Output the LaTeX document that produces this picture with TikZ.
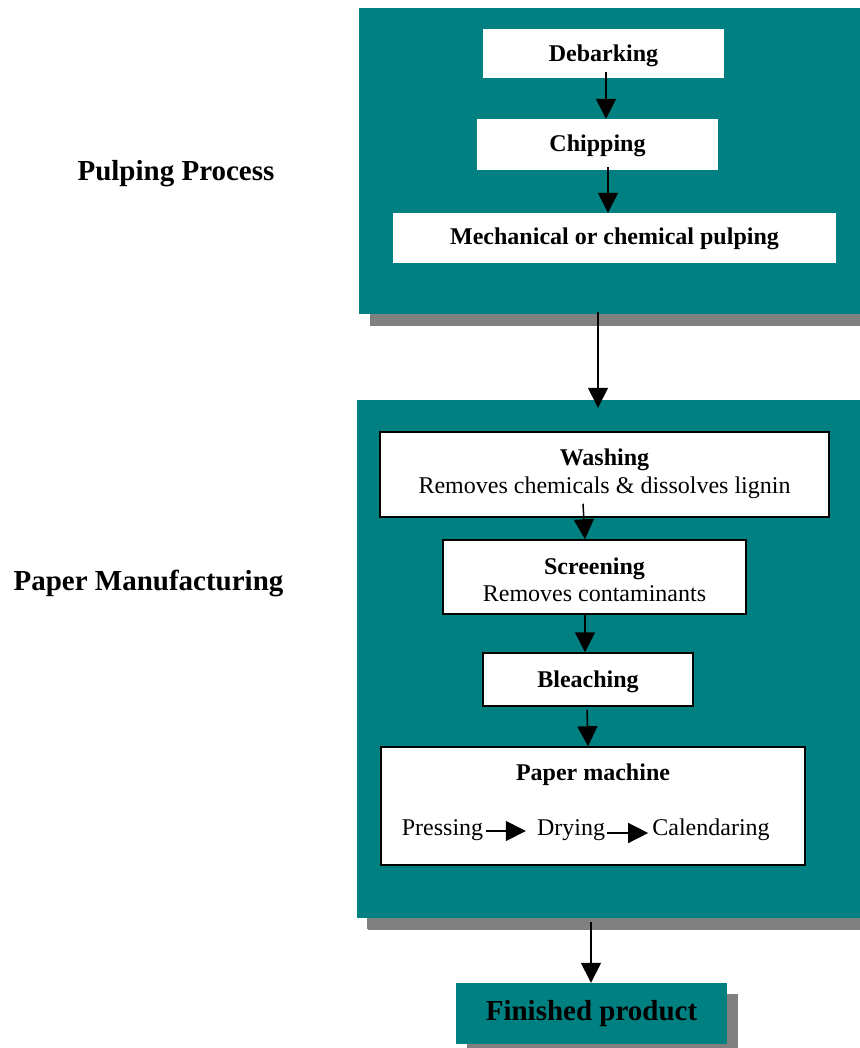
\documentclass[tikz,border=0pt]{standalone}
\usepackage{fontspec}
\setmainfont{Liberation Serif}
\usetikzlibrary{arrows.meta,shadows}
\definecolor{tealpanel}{HTML}{008080}
\definecolor{shadowgray}{HTML}{808080}
\tikzset{
  panel/.style={fill=tealpanel, inner sep=0pt,
    general shadow={fill=shadowgray, shadow xshift=11pt, shadow yshift=-12pt}},
  plainbox/.style={fill=white, inner sep=0pt, font=\fontsize{24}{28}\selectfont\bfseries},
  framebox/.style={fill=white, draw=black, line width=1.5pt, inner sep=0pt,
    font=\fontsize{24}{28}\selectfont, align=center},
  sidelabel/.style={anchor=base, inner sep=0pt, font=\fontsize{29}{34}\selectfont\bfseries},
  rowtext/.style={anchor=base, inner sep=0pt, font=\fontsize{24}{28}\selectfont},
  arr/.style={-{Triangle[length=20pt,width=20pt]}, line width=1.5pt},
}
\begin{document}
\begin{tikzpicture}[x=1pt,y=-1pt]
\useasboundingbox (0,0) rectangle (859,1048);

% side headings
\node[sidelabel] (lblpulp) at (176,181) {Pulping Process};
\node[sidelabel] (lblpaper) at (148.5,590) {Paper Manufacturing};

% pulping panel
\node[panel, minimum width=513pt, minimum height=306pt] (pulp) at (615.5,161) {};
\node[plainbox, minimum width=241pt, minimum height=49pt, text height=17pt, text depth=0pt]
  (deb) at (603.5,53.5) {Debarking};
\node[plainbox, minimum width=241pt, minimum height=51pt, text height=15pt, text depth=0pt]
  (chip) at (597.5,144.5) {Chipping};
\node[plainbox, minimum width=443pt, minimum height=50pt, text height=14pt, text depth=0pt]
  (mech) at (614.5,238) {Mechanical or chemical pulping};
\draw[arr] ([xshift=2.5pt,yshift=6pt]deb.south) -- ([xshift=8.5pt]chip.north);
\draw[arr] ([xshift=10.5pt,yshift=3pt]chip.south) -- ([xshift=-6.5pt]mech.north);

% paper manufacturing panel
\node[panel, general shadow={fill=shadowgray, shadow xshift=10pt, shadow yshift=-11pt},
  minimum width=513pt, minimum height=518pt] (manu) at (613.5,659) {};
\draw[arr] ([xshift=-17.5pt,yshift=2pt]pulp.south) -- ([xshift=-15.5pt,yshift=-8pt]manu.north);

\node[framebox, minimum width=449pt, minimum height=85pt, text height=42pt, text depth=5pt]
  (wash) at (604.5,474.5) {\textbf{Washing}\\Removes chemicals \& dissolves lignin};
\node[framebox, font=\fontsize{24}{27}\selectfont, minimum width=303pt, minimum height=74pt,
  text height=53pt, text depth=5pt]
  (scr) at (594.5,577) {\textbf{Screening}\\Removes contaminants};
\node[framebox, font=\fontsize{24}{28}\selectfont\bfseries, minimum width=210pt, minimum height=53pt,
  text height=15pt, text depth=0pt]
  (blea) at (588,679.5) {Bleaching};
\node[framebox, minimum width=424pt, minimum height=118pt] (pm) at (593,806) {};
\node[rowtext, font=\fontsize{24}{28}\selectfont\bfseries] (pmtitle) at (593,780) {Paper machine};
\node[rowtext] (press) at (442.5,835) {Pressing};
\node[rowtext] (dry) at (571,835) {Drying};
\node[rowtext] (cal) at (711,835) {Calendaring};

\draw[arr] ([xshift=-21.5pt,yshift=14pt]wash.south) -- ([xshift=-9.5pt]scr.north);
\draw[arr] ([xshift=-9.5pt]scr.south) -- ([xshift=-3pt]blea.north);
\draw[arr] ([xshift=-1pt,yshift=-3pt]blea.south) -- ([xshift=-5pt]pm.north);
\draw[arr] ([xshift=3pt,yshift=4pt]press.base east) -- ([xshift=-11pt,yshift=4pt]dry.base west);
\draw[arr] ([xshift=2pt,yshift=2pt]dry.base east) -- ([xshift=-4pt,yshift=2pt]cal.base west);

% finished product
\node[panel, general shadow={fill=shadowgray, shadow xshift=11pt, shadow yshift=-11pt},
  minimum width=271pt, minimum height=61pt, text height=13pt, text depth=0pt,
  font=\fontsize{29}{34}\selectfont\bfseries] (fin) at (591.5,1013.5) {Finished product};
\draw[arr] ([xshift=-22.5pt,yshift=-4pt]manu.south) -- ([xshift=-0.5pt]fin.north);
\end{tikzpicture}
\end{document}
